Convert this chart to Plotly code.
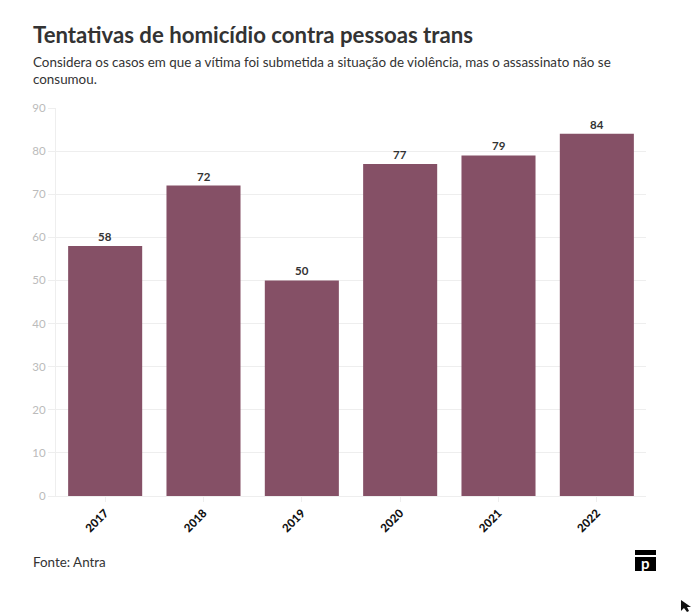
import plotly.graph_objects as go

# dados - tentativas de homicidio (Antra)
anos = ['2017', '2018', '2019', '2020', '2021', '2022']
casos = [58, 72, 50, 77, 79, 84]
y_ticks = [0, 10, 20, 30, 40, 50, 60, 70, 80, 90]

titulo = 'Tentativas de homicídio contra pessoas trans'
subtitulo = 'Considera os casos em que a vítima foi submetida a situação de violência, mas o assassinato não se<br>consumou.'
fonte = 'Fonte: Antra'

W, H = 693, 612
L, R, T, B = 56, 646, 108, 496
FONT = 'Lato'
GRID = '#eeeeee'


# screenshot pixel -> paper coords
def px(x):
    return (x - L) / (R - L)


def py(y):
    return (B - y) / (B - T)


def box(x0, x1, y0, y1, color='black'):
    fig.add_shape(type='rect', xref='paper', yref='paper', x0=px(x0), x1=px(x1), y0=py(y0), y1=py(y1),
                  fillcolor=color, line_width=0)


fig = go.Figure()
fig.add_trace(go.Bar(
    x=anos, y=casos,
    marker=dict(color='#855066', line=dict(width=0)),
    hoverinfo='skip',
))

# value labels sit a little lower than textposition='outside' puts them
# x is the category index here, year strings get read as numbers by the annotation
for i, valor in enumerate(casos):
    fig.add_annotation(x=i, y=valor, text='<b>%d</b>' % valor, showarrow=False,
                       xanchor='center', yanchor='bottom', yshift=1,
                       font=dict(family=FONT, size=11.5, color='#333333'))

fig.update_layout(
    width=W, height=H,
    margin=dict(l=L, r=W - R, t=T, b=H - B, pad=0),
    paper_bgcolor='white', plot_bgcolor='white',
    showlegend=False, bargap=0.247,
    font=dict(family=FONT),
    xaxis=dict(type='category', range=[-0.5, 5.5], tickangle=-45, ticks='outside', ticklen=5, tickcolor=GRID,
               tickfont=dict(family=FONT, size=11.5, color='#111111', weight=900),
               showgrid=False, showline=True, linecolor=GRID, zeroline=False),
    yaxis=dict(range=[0, 90], tickvals=y_ticks, ticks='outside', ticklen=7, tickcolor=GRID,
               tickfont=dict(family=FONT, size=11.5, color='#bbbbbb'),
               showgrid=True, gridcolor=GRID, showline=True, linecolor=GRID, zeroline=False),
)

# annotations get 2px of padding on the left
fig.add_annotation(text='<b>' + titulo + '</b>', xref='paper', yref='paper', x=px(31), y=py(34),
                   xanchor='left', yanchor='middle', showarrow=False,
                   font=dict(family=FONT, size=22.2, color='#333333'))
fig.add_annotation(text=subtitulo, xref='paper', yref='paper', x=px(31), y=py(71), align='left',
                   xanchor='left', yanchor='middle', showarrow=False,
                   font=dict(family=FONT, size=13.4, color='#333333'))
fig.add_annotation(text=fonte, xref='paper', yref='paper', x=px(31), y=py(562),
                   xanchor='left', yanchor='middle', showarrow=False,
                   font=dict(family=FONT, size=13.4, color='#333333'))

# logo
box(635, 656, 550, 555)
box(635, 656, 557, 571)
fig.add_annotation(text='<b>p</b>', xref='paper', yref='paper', x=px(645.5), y=py(563),
                   xanchor='center', yanchor='middle', showarrow=False,
                   font=dict(family=FONT, size=15, color='white'))

# mouse pointer left in the screenshot
pointer = [(681, 600), (681, 611), (684, 608), (687, 612), (689, 611), (687, 607), (691, 607)]
path = 'M ' + ' L '.join(f'{px(a):.4f} {py(b):.4f}' for a, b in pointer) + ' Z'
fig.add_shape(type='path', xref='paper', yref='paper', path=path, fillcolor='#111111', line_width=0)

# drop the default body margin so the figure fills the window exactly
fig.write_html('out.html', config={'displayModeBar': False},
               post_script="document.body.style.margin='0';document.documentElement.style.overflow='hidden';")
